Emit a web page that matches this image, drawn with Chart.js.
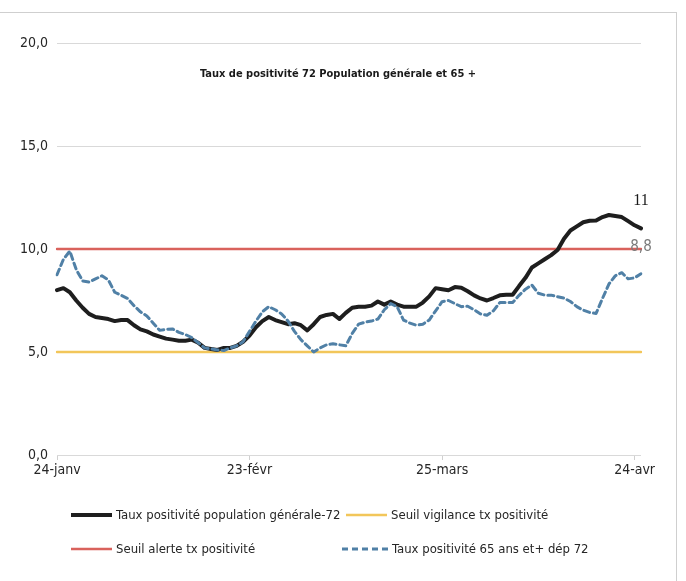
<!DOCTYPE html>
<html>
<head>
<meta charset="utf-8">
<script src="https://cdn.jsdelivr.net/npm/chart.js@4/dist/chart.umd.min.js"></script>
<style>
  body { margin: 0; background: #fff; }
  #wrap { position: relative; width: 686px; height: 581px; overflow: hidden; }
  #frame { position: absolute; left: 0; top: 12px; width: 676px; height: 580px;
           border-top: 1px solid #cfcfcf; border-right: 1px solid #cfcfcf; }
  canvas { position: absolute; left: 0; top: 0; }
  .leg { position: absolute; display: flex; align-items: center; white-space: nowrap;
         font-family: 'Liberation Sans Narrow', 'DejaVu Sans Condensed', sans-serif;
         font-size: 13px; color: #262626; }
  .leg svg { margin-right: 3px; }
</style>
</head>
<body>
<div id="wrap">
  <div id="frame"></div>
  <canvas id="chart" width="686" height="581"></canvas>
  <div id="legend"></div>
</div>
<script>
const FONT = "'Liberation Sans Narrow', 'DejaVu Sans Condensed', sans-serif";
const monthNames = ["janv", "févr", "mars", "avr"];
const tickLabels = ["24-janv", "23-févr", "25-mars", "24-avr"];
const yTicks = [0, 5, 10, 15, 20];

// taux de positivité population générale, Sarthe (72), du 24-janv au 25-avr
const tauxGeneral = [
  8.0, 8.1, 7.9, 7.5, 7.15, 6.85, 6.7, 6.65, 6.6, 6.5,
  6.55, 6.55, 6.3, 6.1, 6.0, 5.85, 5.75, 5.65, 5.6, 5.55,
  5.55, 5.6, 5.45, 5.2, 5.15, 5.1, 5.2, 5.2, 5.3, 5.5,
  5.8, 6.2, 6.5, 6.7, 6.55, 6.45, 6.35, 6.4, 6.3, 6.05,
  6.35, 6.7, 6.8, 6.85, 6.6, 6.9, 7.15, 7.2, 7.2, 7.25,
  7.45, 7.3, 7.45, 7.3, 7.2, 7.2, 7.2, 7.4, 7.7, 8.1,
  8.05, 8.0, 8.15, 8.12, 7.95, 7.75, 7.6, 7.5, 7.62, 7.75,
  7.78, 7.78, 8.2, 8.6, 9.1, 9.3, 9.5, 9.7, 9.95, 10.5,
  10.9, 11.1, 11.3, 11.37, 11.38, 11.55, 11.65, 11.6, 11.55, 11.35,
  11.15, 11.0
];

// taux de positivité 65 ans et +
const taux65 = [
  8.75, 9.5, 9.9, 9.0, 8.45, 8.4, 8.55, 8.7, 8.5, 7.9,
  7.75, 7.6, 7.25, 6.95, 6.75, 6.4, 6.05, 6.1, 6.12, 5.95,
  5.85, 5.7, 5.45, 5.2, 5.15, 5.1, 5.07, 5.2, 5.3, 5.5,
  6.0, 6.5, 6.95, 7.2, 7.05, 6.85, 6.5, 6.0, 5.6, 5.3,
  5.0, 5.2, 5.35, 5.4, 5.35, 5.3, 5.9, 6.35, 6.45, 6.5,
  6.6, 7.05, 7.35, 7.2, 6.55, 6.4, 6.3, 6.35, 6.55, 7.0,
  7.44, 7.5, 7.35, 7.2, 7.22, 7.05, 6.85, 6.78, 7.0, 7.4,
  7.4, 7.4, 7.75, 8.05, 8.25, 7.85, 7.76, 7.76, 7.68, 7.62,
  7.45, 7.2, 7.03, 6.92, 6.87, 7.6, 8.3, 8.7, 8.85, 8.55,
  8.6, 8.8
];

const seuilVigilance = 5;
const seuilAlerte = 10;

const categories = tauxGeneral.map((v, i) => {
  const d = new Date(2021, 0, 24 + i);
  return d.getDate() + "-" + monthNames[d.getMonth()];
});

const series = [
  { label: "Taux positivité population générale-72", data: tauxGeneral,
    borderColor: "#1e1e1e", borderWidth: 4, order: 1 },
  { label: "Seuil vigilance tx positivité", data: categories.map(() => seuilVigilance),
    borderColor: "#f2c65a", borderWidth: 2.5, order: 3 },
  { label: "Seuil alerte tx positivité", data: categories.map(() => seuilAlerte),
    borderColor: "#d9625c", borderWidth: 2.5, order: 2 },
  { label: "Taux positivité 65 ans et+ dép 72", data: taux65,
    borderColor: "#5080a6", borderWidth: 3, borderDash: [6, 4], order: 0 }
];

const overlayText = {
  id: "overlayText",
  afterDraw(chart) {
    const ctx = chart.ctx;
    ctx.save();
    ctx.textAlign = "center";
    ctx.textBaseline = "middle";
    ctx.fillStyle = "#1a1a1a";
    ctx.font = "bold 11px " + FONT;
    ctx.fillText("Taux de positivité 72 Population générale et 65 +", 338, 74);

    const last = tauxGeneral.length - 1;
    const p0 = chart.getDatasetMeta(0).data[last];
    ctx.font = "16px 'Liberation Serif', serif";
    ctx.fillStyle = "#1a1a1a";
    ctx.fillText(String(tauxGeneral[last]).replace(".", ","), p0.x, p0.y - 28);

    const p3 = chart.getDatasetMeta(3).data[last];
    ctx.font = "15px " + FONT;
    ctx.fillStyle = "#7a7a7a";
    ctx.fillText(String(taux65[last]).replace(".", ","), p3.x, p3.y - 27);
    ctx.restore();
  }
};

const chart = new Chart(document.getElementById("chart"), {
  type: "line",
  data: {
    labels: categories,
    datasets: series.map(s => Object.assign({
      pointRadius: 0, tension: 0, fill: false,
      borderCapStyle: "round", borderJoinStyle: "round"
    }, s))
  },
  options: {
    responsive: false,
    animation: false,
    layout: { padding: { top: 43, right: 45, bottom: 98, left: 0 } },
    plugins: { legend: { display: false }, title: { display: false }, tooltip: { enabled: false } },
    scales: {
      x: {
        border: { display: false },
        grid: {
          drawOnChartArea: false, tickLength: 5,
          color: c => tickLabels.includes(categories[c.index]) ? "#d0d0d0" : "transparent"
        },
        ticks: {
          autoSkip: false, maxRotation: 0, padding: 2, color: "#262626",
          font: { family: FONT, size: 14 },
          callback(value) {
            const lab = this.getLabelForValue(value);
            return tickLabels.includes(lab) ? lab : "";
          }
        },
        afterFit(scale) { scale.height = 28; }
      },
      y: {
        min: 0, max: 20,
        border: { display: false },
        grid: { color: "#d9d9d9", drawTicks: false },
        afterBuildTicks(scale) { scale.ticks = yTicks.map(v => ({ value: v })); },
        ticks: {
          padding: 9, color: "#262626",
          font: { family: FONT, size: 14 },
          callback: v => v.toFixed(1).replace(".", ",")
        },
        afterFit(scale) { scale.width = 57; }
      }
    }
  },
  plugins: [overlayText]
});

// legende en deux colonnes, comme sur l'original
const legendPos = [[70, 516], [345, 516], [70, 550], [341, 550]];
const legendBox = document.getElementById("legend");
chart.data.datasets.forEach((ds, i) => {
  const item = document.createElement("div");
  item.className = "leg";
  item.style.left = legendPos[i][0] + "px";
  item.style.top = (legendPos[i][1] - 9) + "px";
  const w = ds.borderDash ? 48 : 43;
  const dash = ds.borderDash ? `stroke-dasharray="${ds.borderDash.join(" ")}"` : "";
  item.innerHTML = `<svg width="${w}" height="8"><line x1="1" y1="4" x2="${w - 1}" y2="4"
      stroke="${ds.borderColor}" stroke-width="${ds.borderWidth}" ${dash}/></svg><span>${ds.label}</span>`;
  legendBox.appendChild(item);
});
</script>
</body>
</html>
